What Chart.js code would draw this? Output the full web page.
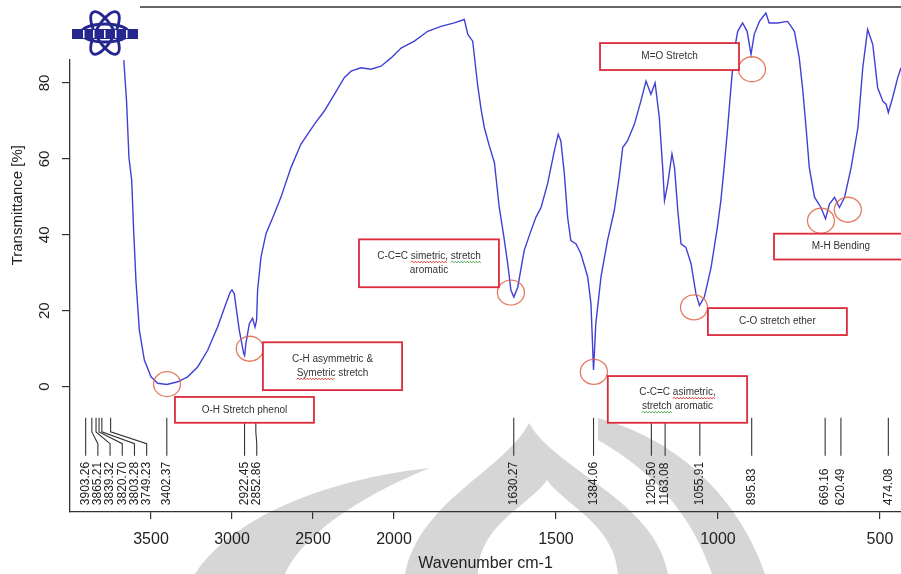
<!DOCTYPE html>
<html>
<head>
<meta charset="utf-8">
<script src="https://cdn.jsdelivr.net/npm/chart.js@4.4.0/dist/chart.umd.min.js"></script>
<style>
  html, body { margin: 0; padding: 0; background: #fff; }
  #wrap { width: 901px; height: 574px; }
</style>
</head>
<body>
<div id="wrap"><canvas id="ftir" width="901" height="574"></canvas></div>
<script>
// spectrum: wavenumber (cm-1) / transmittance (%)
const wavenumbers = [
  3668, 3651, 3636, 3619, 3607, 3593, 3572, 3541, 3500, 3459, 3402, 3335, 3274, 3212, 3150, 3089,
  3037, 3010, 3000, 2986, 2975, 2955, 2928, 2922, 2914, 2893, 2873, 2858, 2848, 2842, 2821, 2790,
  2739, 2697, 2636, 2574, 2492, 2430, 2368, 2307, 2265, 2204, 2142, 2080, 2018, 1978, 1937, 1896,
  1855, 1814, 1783, 1772, 1757, 1742, 1731, 1721, 1706, 1690, 1675, 1660, 1649, 1639, 1630, 1618,
  1598, 1577, 1562, 1546, 1526, 1505, 1493, 1485, 1474, 1464, 1454, 1438, 1423, 1402, 1392, 1384,
  1377, 1361, 1341, 1320, 1305, 1294, 1279, 1258, 1238, 1222, 1207, 1194, 1181, 1170, 1165, 1155,
  1142, 1134, 1124, 1114, 1099, 1083, 1068, 1057, 1042, 1021, 1001, 991, 981, 970, 960, 950,
  939, 924, 910, 898, 888, 872, 852, 842, 816, 785, 764, 749, 738, 728, 718, 702,
  682, 668, 656, 640, 625, 609, 589, 568, 553, 538, 522, 507, 491, 481, 474, 461,
  445, 435
];
const transmittance = [
  86, 75.3, 60.3, 54.3, 41.1, 28, 14.9, 7, 2.6, 0.9, 0.6, 1.3, 2.6, 5.2, 9.6, 15.7,
  21.9, 25, 25.5, 24.5, 21, 14.9, 8.8, 8.2, 11.4, 16.6, 18, 15.7, 17.5, 25.4, 34.1, 40.3,
  45.5, 50, 57.7, 63.9, 69.1, 72.6, 77, 81.4, 83.1, 84, 83.6, 84.4, 86.6, 89.2, 91, 93.6,
  94.9, 95.8, 96.7, 92.8, 91, 79.6, 73, 68.2, 63.5, 59, 47.2, 39, 32.4, 25.4, 23.6, 26.2,
  35.9, 41.1, 44.6, 47.2, 53.4, 62.1, 66.5, 64.8, 56, 44.6, 38.5, 37.6, 35, 28.9, 21.9, 4.4,
  16.6, 28.9, 38.5, 46.4, 55.1, 63, 64.8, 69.1, 75.2, 80.5, 77, 80, 70.9, 56.9, 49, 53.4,
  61.3, 57.7, 46.4, 37.6, 36.7, 32.4, 24.5, 21.4, 23.6, 31.5, 42.5, 49, 57.7, 68.2, 78.7, 88.4,
  93.6, 95.8, 93.6, 87.5, 92.8, 96.2, 98.4, 95.8, 95.8, 96.2, 93.6, 86.6, 77.9, 68.2, 57.7, 49.9,
  47.2, 44.2, 48.1, 49.9, 47.2, 49.9, 57.7, 68.2, 84, 94.1, 90.1, 78.7, 75.2, 74.4, 72.2, 76.1,
  81.4, 84
];

// peak picking labels printed under the trace
const peakLabels = [
  '3903.26', '3865.21', '3839.32', '3820.70', '3803.28', '3749.23', '3402.37', '2922.45', '2852.86',
  '1630.27', '1384.06', '1205.50', '1163.08', '1055.91', '895.83', '669.16', '620.49', '474.08'
];

const xTickValues = [3500, 3000, 2500, 2000, 1500, 1000, 500];
const yTickValues = [0, 20, 40, 60, 80];

// band assignments (text lines; [text, squiggle colour])
const noteTexts = [
  [[['O-H Stretch phenol']]],
  [[['C-H asymmetric &']], [['Symetric', 'red'], [' stretch']]],
  [[['C-C=C '], ['simetric,', 'red'], [' '], ['stretch', 'green']], [['aromatic']]],
  [[['C-C=C '], ['asimetric,', 'red']], [['stretch', 'green'], [' aromatic']]],
  [[['M=O Stretch']]],
  [[['C-O stretch ether']]],
  [[['M-H Bending']]]
];
// box corners in (wavenumber, %T)
const noteBoxes = [
  [3352, -2.7, 2494, -9.5],
  [2809, 11.7, 1975, -0.9],
  [2216, 38.8, 1676, 26.2],
  [1340, 2.8, 910, -9.5],
  [1364, 90.5, 935, 83.4],
  [1031, 20.7, 602, 13.6],
  [827, 40.3, 414, 33.5]
];
// red rings marking the bands (wavenumber, %T)
const ringCentres = [
  [3401, 0.7], [2890, 10], [1639, 24.8], [1383, 3.9], [895, 83.6], [1074, 20.9], [682, 43.7], [599, 46.6]
];

const FONT = "'Liberation Sans', Arial, sans-serif";

// the x axis is printed at half scale above 2000 cm-1
function toAxis(wn) { return wn > 2000 ? 2000 + (wn - 2000) / 2 : wn; }
function fromAxis(u) { return u > 2000 ? 2000 + (u - 2000) * 2 : u; }

function wavy(ctx, x1, x2, y, color) {
  ctx.save();
  ctx.strokeStyle = color === 'red' ? '#e03030' : '#3aa040';
  ctx.lineWidth = 0.9;
  ctx.beginPath();
  let up = true;
  ctx.moveTo(x1, y);
  for (let x = x1 + 1.5; x <= x2; x += 1.5) {
    ctx.lineTo(x, up ? y - 1.1 : y + 0.6);
    up = !up;
  }
  ctx.stroke();
  ctx.restore();
}

const watermark = {
  id: 'watermark',
  beforeDraw(chart) {
    const ctx = chart.ctx;
    ctx.save();
    ctx.fillStyle = '#d6d6d6';
    // left sweep
    ctx.beginPath();
    ctx.moveTo(195, 574);
    ctx.bezierCurveTo(230, 520, 320, 480, 430, 468);
    ctx.bezierCurveTo(350, 500, 300, 540, 285, 574);
    ctx.closePath();
    ctx.fill();
    // central dome
    ctx.beginPath();
    ctx.moveTo(529, 423);
    ctx.bezierCurveTo(505, 470, 420, 500, 405, 574);
    ctx.lineTo(668, 574);
    ctx.bezierCurveTo(655, 500, 555, 470, 529, 423);
    ctx.fill();
    // right sweep
    ctx.beginPath();
    ctx.moveTo(598, 418);
    ctx.bezierCurveTo(680, 440, 740, 500, 765, 574);
    ctx.lineTo(712, 574);
    ctx.bezierCurveTo(690, 510, 650, 470, 598, 440);
    ctx.closePath();
    ctx.fill();
    // inner light onion
    ctx.fillStyle = '#fff';
    ctx.beginPath();
    ctx.moveTo(547, 480);
    ctx.bezierCurveTo(530, 505, 478, 525, 478, 574);
    ctx.lineTo(618, 574);
    ctx.bezierCurveTo(615, 525, 565, 505, 547, 480);
    ctx.fill();
    ctx.restore();
  }
};

const decor = {
  id: 'decor',
  afterDatasetsDraw(chart) {
    const ctx = chart.ctx;
    const xs = chart.scales.x, ys = chart.scales.y;
    const px = wn => xs.getPixelForValue(toAxis(wn));
    const py = t => ys.getPixelForValue(t);

    // peak ticks with leader lines
    ctx.save();
    ctx.strokeStyle = '#333';
    ctx.lineWidth = 1.1;
    ctx.fillStyle = '#222';
    ctx.font = '12px ' + FONT;
    let prev = -1e9;
    peakLabels.forEach(lbl => {
      const x0 = px(parseFloat(lbl));
      const lx = Math.max(x0, prev + 12.2);
      prev = lx;
      ctx.beginPath();
      ctx.moveTo(x0, py(-8.2));
      ctx.lineTo(x0, py(-11.9));
      ctx.lineTo(lx, py(-15));
      ctx.lineTo(lx, py(-18.2));
      ctx.stroke();
      ctx.save();
      ctx.translate(lx, py(-31.2));
      ctx.rotate(-Math.PI / 2);
      ctx.textAlign = 'left';
      ctx.textBaseline = 'middle';
      ctx.fillText(lbl, 0, 0);
      ctx.restore();
    });
    ctx.restore();

    // rings
    ctx.save();
    ctx.strokeStyle = 'rgba(222,100,70,0.85)';
    ctx.lineWidth = 1.3;
    ringCentres.forEach(([w, t]) => {
      ctx.beginPath();
      ctx.ellipse(px(w), py(t), 13.5, 12.5, 0, 0, Math.PI * 2);
      ctx.stroke();
    });
    ctx.restore();

    // boxes with text
    ctx.save();
    ctx.font = '10px ' + FONT;
    noteBoxes.forEach(([w1, t1, w2, t2], i) => {
      const x1 = px(w1), x2 = px(w2), y1 = py(t1), y2 = py(t2);
      ctx.fillStyle = '#fff';
      ctx.fillRect(x1, y1, x2 - x1, y2 - y1);
      ctx.strokeStyle = '#dc2b3c';
      ctx.lineWidth = 1.8;
      ctx.strokeRect(x1, y1, x2 - x1, y2 - y1);
      const lines = noteTexts[i];
      const lh = 14;
      const cx = (x1 + x2) / 2;
      const cy = (y1 + y2) / 2 - (lines.length - 1) * lh / 2;
      lines.forEach((segs, li) => {
        const widths = segs.map(s => ctx.measureText(s[0]).width);
        const total = widths.reduce((a, b) => a + b, 0);
        let x = cx - total / 2;
        const y = cy + li * lh;
        segs.forEach((s, si) => {
          ctx.fillStyle = '#333';
          ctx.textAlign = 'left';
          ctx.textBaseline = 'middle';
          ctx.fillText(s[0], x, y);
          if (s[1]) wavy(ctx, x, x + widths[si], y + 6, s[1]);
          x += widths[si];
        });
      });
    });
    ctx.restore();
  },
  afterDraw(chart) {
    const ctx = chart.ctx;
    const area = chart.chartArea;
    const ys = chart.scales.y;
    ctx.save();
    // top frame line
    ctx.strokeStyle = '#333';
    ctx.lineWidth = 1.3;
    ctx.beginPath();
    ctx.moveTo(area.left, area.top);
    ctx.lineTo(area.right, area.top);
    ctx.stroke();

    // y tick labels, rotated like the original
    ctx.fillStyle = '#222';
    ctx.font = '15px ' + FONT;
    ctx.textAlign = 'center';
    ctx.textBaseline = 'middle';
    ys.ticks.forEach(t => {
      ctx.save();
      ctx.translate(45, ys.getPixelForValue(t.value));
      ctx.rotate(-Math.PI / 2);
      ctx.fillText(String(t.value), 0, 0);
      ctx.restore();
    });
    // y title
    ctx.save();
    ctx.translate(18, ys.getPixelForValue(47.8));
    ctx.rotate(-Math.PI / 2);
    ctx.fillText('Transmittance [%]', 0, 0);
    ctx.restore();

    // instrument logo over the top-left corner
    ctx.fillStyle = '#fff';
    ctx.fillRect(62, 0, 78, 59);
    ctx.strokeStyle = '#26268f';
    ctx.lineWidth = 2.8;
    [0, Math.PI / 3, -Math.PI / 3].forEach(r => {
      ctx.beginPath();
      ctx.ellipse(105, 33, 24, 9, r, 0, Math.PI * 2);
      ctx.stroke();
    });
    ctx.fillStyle = '#26268f';
    ctx.fillRect(72, 29, 66, 10);
    ctx.fillStyle = '#fff';
    [83, 93, 104, 115, 126].forEach(x => ctx.fillRect(x, 30, 1.5, 8));
    ctx.restore();
  }
};

const ctx = document.getElementById('ftir');
new Chart(ctx, {
  type: 'line',
  data: {
    datasets: [{
      data: wavenumbers.map((w, i) => ({ x: toAxis(w), y: transmittance[i] })),
      borderColor: '#4040d6',
      borderWidth: 1.4,
      pointRadius: 0,
      tension: 0,
      fill: false
    }]
  },
  options: {
    responsive: false,
    animation: false,
    layout: { padding: { top: 7, right: 0, left: 0, bottom: 0 } },
    plugins: { legend: { display: false }, tooltip: { enabled: false } },
    scales: {
      x: {
        type: 'linear',
        reverse: true,
        min: 435,
        max: 3000,
        afterBuildTicks: s => { s.ticks = xTickValues.map(v => ({ value: toAxis(v) })); },
        afterFit: s => { s.height = 62; s.paddingLeft = 0; s.paddingRight = 0; },
        ticks: {
          callback: v => String(fromAxis(v)),
          color: '#222',
          font: { size: 16, family: FONT },
          padding: 11,
          maxRotation: 0,
          autoSkip: false
        },
        grid: { drawOnChartArea: false, drawTicks: true, tickLength: 7, color: '#333', lineWidth: 1.2 },
        border: { display: true, color: '#333', width: 1.3 },
        title: {
          display: true,
          text: 'Wavenumber cm-1',
          color: '#222',
          font: { size: 16, family: FONT },
          padding: { top: 0, bottom: 1 }
        }
      },
      y: {
        type: 'linear',
        min: -33,
        max: 100,
        afterBuildTicks: s => { s.ticks = yTickValues.map(v => ({ value: v })); },
        afterFit: s => { s.width = 70; s.paddingTop = 0; s.paddingBottom = 0; },
        ticks: { display: false },
        grid: { drawOnChartArea: false, drawTicks: true, tickLength: 8, color: '#333', lineWidth: 1.2 },
        border: { display: true, color: '#333', width: 1.3 }
      }
    }
  },
  plugins: [watermark, decor]
});
</script>
</body>
</html>
